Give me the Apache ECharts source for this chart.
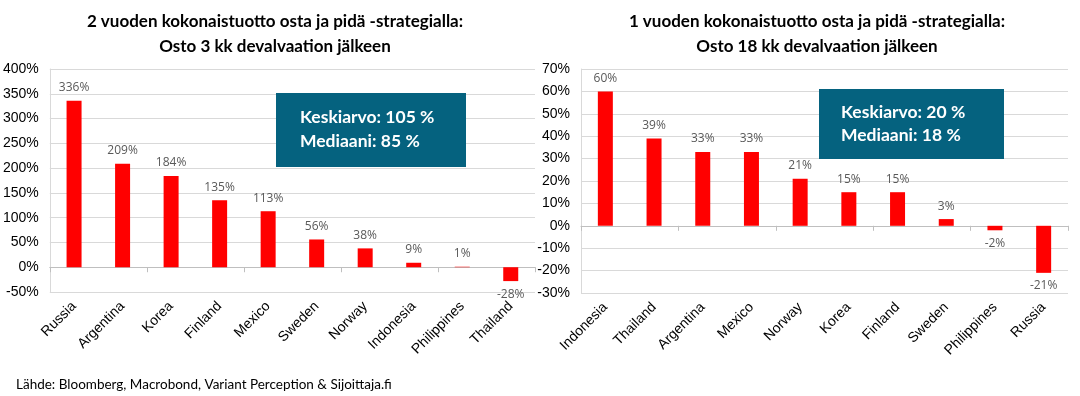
<!DOCTYPE html>
<html><head><meta charset="utf-8">
<script src="https://cdn.jsdelivr.net/npm/echarts@6/dist/echarts.min.js"></script>
<style>html,body{margin:0;padding:0;background:#fff}#c{width:1080px;height:396px}</style>
</head><body><div id="c"></div>
<script>
const leftTitle = '2 vuoden kokonaistuotto osta ja pidä -strategialla:\nOsto 3 kk devalvaation jälkeen';
const rightTitle = '1 vuoden kokonaistuotto osta ja pidä -strategialla:\nOsto 18 kk devalvaation jälkeen';
const leftCategories = ['Russia','Argentina','Korea','Finland','Mexico','Sweden','Norway','Indonesia','Philippines','Thailand'];
const leftValues = [336,209,184,135,113,56,38,9,1,-28];
const rightCategories = ['Indonesia','Thailand','Argentina','Mexico','Norway','Korea','Finland','Sweden','Philippines','Russia'];
const rightValues = [60,39,33,33,21,15,15,3,-2,-21];
const leftBoxText = 'Keskiarvo: 105 %\nMediaani: 85 %';
const rightBoxText = 'Keskiarvo: 20 %\nMediaani: 18 %';
const sourceText = 'Lähde: Bloomberg, Macrobond, Variant Perception & Sijoittaja.fi';

const chart = echarts.init(document.getElementById('c'), null, {renderer:'canvas'});
const BAR = '#ff0000', BOX = '#05627f';
const labelStyle = {fontFamily:'Open Sans', fontSize:12, color:'#595959', formatter: p => p.value + '%'};
function items(vals){
  return vals.map(v => ({value:v, label:{show:true, position: v<0?'bottom':'top', distance:7}}));
}
function xAxes(grid, cats){
  return [
    {type:'category', gridIndex:grid, data:cats, position:'bottom',
     axisLine:{show:true, onZero:true, lineStyle:{color:'#bfbfbf'}},
     axisTick:{show:true, length:5, lineStyle:{color:'#bfbfbf'}},
     axisLabel:{show:false}, splitLine:{show:false}},
    {type:'category', gridIndex:grid, data:cats, position:'bottom',
     axisLine:{show:false, onZero:false}, axisTick:{show:false},
     axisLabel:{show:true, rotate:45, margin:12, fontFamily:'Liberation Sans', fontSize:14, color:'#000'}}
  ];
}
function yAxis(grid, min, max, interval){
  return {type:'value', gridIndex:grid, min, max, interval,
    axisLine:{show:true, lineStyle:{color:'#d9d9d9'}}, axisTick:{show:false},
    axisLabel:{formatter:'{value}%', margin:11, fontFamily:'Liberation Sans', fontSize:14, color:'#000'},
    splitLine:{show:true, lineStyle:{color:'#d9d9d9', width:1}}};
}
chart.setOption({
  animation:false,
  backgroundColor:'#fff',
  title:[
    {text:leftTitle, left:270, top:4, textAlign:'center',
     textStyle:{fontFamily:'Lato', fontWeight:'bold', fontSize:17, color:'#000', lineHeight:25}},
    {text:rightTitle, left:812, top:4, textAlign:'center',
     textStyle:{fontFamily:'Lato', fontWeight:'bold', fontSize:17, color:'#000', lineHeight:25}},
    {text:sourceText, left:11, top:373,
     textStyle:{fontFamily:'Lato', fontWeight:'normal', fontSize:13.5, color:'#000'}}
  ],
  grid:[
    {left:48, top:69, width:487, height:223},
    {left:581, top:69, width:487, height:224}
  ],
  xAxis:[...xAxes(0,leftCategories), ...xAxes(1,rightCategories)],
  yAxis:[yAxis(0,-50,400,50), yAxis(1,-30,70,10)],
  series:[
    {type:'bar', xAxisIndex:0, yAxisIndex:0, data:items(leftValues), barWidth:15,
     itemStyle:{color:BAR}, label:labelStyle},
    {type:'bar', xAxisIndex:2, yAxisIndex:1, data:items(rightValues), barWidth:15,
     itemStyle:{color:BAR}, label:labelStyle}
  ],
  graphic:[
    {type:'rect', left:276, top:93, shape:{width:190, height:74}, style:{fill:BOX}, z:10},
    {type:'text', left:300, top:105, z:11,
     style:{text:leftBoxText, fill:'#fff', font:'bold 17.5px Lato', lineHeight:24}},
    {type:'rect', left:819, top:89, shape:{width:185, height:70}, style:{fill:BOX}, z:10},
    {type:'text', left:841, top:101, z:11,
     style:{text:rightBoxText, fill:'#fff', font:'bold 17.5px Lato', lineHeight:23}}
  ]
});
</script></body></html>
